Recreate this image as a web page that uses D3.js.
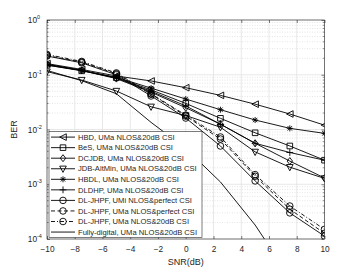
<!DOCTYPE html>
<meta charset="utf-8">
<script src="https://d3js.org/d3.v7.min.js"></script>
<style>
  body { margin: 0; background: #fff; }
  text { font-family: "Liberation Sans", Arial, sans-serif; fill: #262626; }
</style>
<div id="my_dataviz"></div>
<script>
    // data
    const snr = [-10, -7.5, -5, -2.5, 0, 2.5, 5, 7.5, 10];
    const hbd      = [0.16, 0.125, 0.095, 0.077, 0.058, 0.042, 0.029, 0.0192, 0.012];
    const bes      = [0.15, 0.118, 0.088, 0.053, 0.030, 0.016, 0.0087, 0.0050, 0.00275];
    const dcjdb    = [0.155, 0.12, 0.085, 0.048, 0.025, 0.0125, 0.0056, 0.00265, 0.0013];
    const jdb      = [0.114, 0.080, 0.0505, 0.026, 0.018, 0.011, 0.0039, 0.00205, 0.00128];
    const hbdl     = [0.155, 0.12, 0.09, 0.057, 0.036, 0.023, 0.0149, 0.0105, 0.0085];
    const dldhp    = [0.15, 0.12, 0.087, 0.05, 0.027, 0.0125, 0.0056, 0.0038, 0.00275];
    const jhpfUmiP = [0.22, 0.165, 0.10, 0.041, 0.0162, 0.0050, 0.00115, 0.00030, 0.000113];
    const jhpfUmaP = [0.225, 0.17, 0.104, 0.044, 0.0176, 0.0067, 0.0014, 0.00035, 0.000127];
    const jhpfUma20 = [0.235, 0.175, 0.108, 0.045, 0.0183, 0.0073, 0.0015, 0.00040, 0.00015];
    const fullyDigital = [0.12, 0.078, 0.045, 0.0135, 0.0045, 0.0011, 0.00018, 0.00002, 0.000002];

    const xTicks = [-10, -8, -6, -4, -2, 0, 2, 4, 6, 8, 10];
    const yTicks = [1e-4, 1e-3, 1e-2, 1e-1, 1];

    const series = [
        {name: "HBD, UMa NLOS&20dB CSI", values: hbd, marker: "tri-left", dash: null},
        {name: "BeS, UMa NLOS&20dB CSI", values: bes, marker: "square", dash: null},
        {name: "DCJDB, UMa NLOS&20dB CSI", values: dcjdb, marker: "diamond", dash: null},
        {name: "JDB-AltMin, UMa NLOS&20dB CSI", values: jdb, marker: "tri-down", dash: null},
        {name: "HBDL, UMa NLOS&20dB CSI", values: hbdl, marker: "star", dash: null},
        {name: "DLDHP, UMa NLOS&20dB CSI", values: dldhp, marker: "plus", dash: null},
        {name: "DL-JHPF, UMi NLOS&perfect CSI", values: jhpfUmiP, marker: "circle", dash: null},
        {name: "DL-JHPF, UMa NLOS&perfect CSI", values: jhpfUmaP, marker: "circle", dash: "4,2.5"},
        {name: "DL-JHPF, UMa NLOS&20dB CSI", values: jhpfUma20, marker: "circle", dash: "4,2,1,2"},
        {name: "Fully-digital, UMa NLOS&20dB CSI", values: fullyDigital, marker: null, dash: null}
    ];

    const width = 359, height = 269;
    const margin = {top: 20, bottom: 30, left: 47, right: 34.5};
    const ink = "#262626";

    const svg = d3.select("#my_dataviz")
        .append("svg")
            .attr("width", width)
            .attr("height", height);

    const x = d3.scaleLinear()
        .domain([-10, 10])
        .range([margin.left, width - margin.right]);
    const y = d3.scaleLog()
        .domain([1e-4, 1])
        .range([height - margin.bottom, margin.top]);

    const x0 = x.range()[0], x1 = x.range()[1];
    const y0 = y.range()[0], y1 = y.range()[1];

    // minor y values (2..9 per decade)
    const minorY = [];
    for (let e = -4; e < 0; e++) for (let m = 2; m <= 9; m++) minorY.push(m * Math.pow(10, e));

    // grid
    const grid = svg.append("g");
    grid.selectAll(".minor").data(minorY).enter().append("line")
        .attr("x1", x0).attr("x2", x1)
        .attr("y1", d => y(d)).attr("y2", d => y(d))
        .attr("stroke", "#d4d4d4").attr("stroke-width", 0.6)
        .attr("stroke-dasharray", "1,1.5");
    grid.selectAll(".vx").data(xTicks).enter().append("line")
        .attr("x1", d => x(d)).attr("x2", d => x(d))
        .attr("y1", y0).attr("y2", y1)
        .attr("stroke", "#e2e2e2").attr("stroke-width", 0.8);
    grid.selectAll(".hy").data(yTicks).enter().append("line")
        .attr("x1", x0).attr("x2", x1)
        .attr("y1", d => y(d)).attr("y2", d => y(d))
        .attr("stroke", "#e2e2e2").attr("stroke-width", 0.8);

    // axes (ticks inward, on all four sides)
    svg.append("g")
        .attr("transform", "translate(0," + y0 + ")")
        .call(d3.axisBottom(x).tickValues(xTicks).tickSize(-3).tickPadding(7).tickSizeOuter(0))
        .call(g => g.select(".domain").remove());
    svg.append("g")
        .attr("transform", "translate(0," + y1 + ")")
        .call(d3.axisTop(x).tickValues(xTicks).tickSize(-3).tickFormat("").tickSizeOuter(0))
        .call(g => g.select(".domain").remove());
    svg.append("g")
        .attr("transform", "translate(" + x0 + ",0)")
        .call(d3.axisLeft(y).tickValues(yTicks).tickSize(-3).tickFormat(""))
        .call(g => g.select(".domain").remove());
    svg.append("g")
        .attr("transform", "translate(" + x1 + ",0)")
        .call(d3.axisRight(y).tickValues(yTicks).tickSize(-3).tickFormat(""))
        .call(g => g.select(".domain").remove());
    // minor y ticks
    [[x0, 1.6], [x1, -1.6]].forEach(([px, len]) => {
        svg.append("g").selectAll("line").data(minorY).enter().append("line")
            .attr("x1", px).attr("x2", px + len)
            .attr("y1", d => y(d)).attr("y2", d => y(d))
            .attr("stroke", ink).attr("stroke-width", 0.5);
    });
    svg.selectAll(".tick line").attr("stroke", ink).attr("stroke-width", 0.6);
    svg.selectAll(".tick text").style("font-size", "8.3px").attr("fill", ink)
        .style("font-family", "'Liberation Sans', Arial, sans-serif");

    // y tick labels as 10^k
    const yl = svg.append("g");
    yTicks.forEach(v => {
        yl.append("text")
            .attr("x", x0 - 10).attr("y", y(v) + 3)
            .attr("text-anchor", "end")
            .style("font-size", "8.3px")
            .text("10");
        yl.append("text")
            .attr("x", x0 - 10).attr("y", y(v) - 1)
            .attr("text-anchor", "start")
            .style("font-size", "5.5px")
            .text(Math.round(Math.log10(v)));
    });

    // frame
    svg.append("rect")
        .attr("x", x0).attr("y", y1)
        .attr("width", x1 - x0).attr("height", y0 - y1)
        .attr("fill", "none").attr("stroke", ink).attr("stroke-width", 0.6);

    // axis labels
    svg.append("text")
        .attr("x", x(0)).attr("y", height - 4)
        .attr("text-anchor", "middle")
        .style("font-size", "9px")
        .text("SNR(dB)");
    svg.append("text")
        .attr("transform", "translate(17," + ((y0 + y1) / 2) + ") rotate(-90)")
        .attr("text-anchor", "middle")
        .style("font-size", "9px")
        .text("BER");

    // marker shapes
    function markerPath(type) {
        const r = 3.3;
        switch (type) {
            case "tri-left": return "M" + (-r) + ",0L" + r + "," + (-r) + "L" + r + "," + r + "Z";
            case "tri-down": return "M" + (-r) + "," + (-r * 0.8) + "L" + r + "," + (-r * 0.8) + "L0," + (r * 1.1) + "Z";
            case "square": return "M-2.8,-2.8H2.8V2.8H-2.8Z";
            case "diamond": return "M0,-3.5L2.7,0L0,3.5L-2.7,0Z";
            case "plus": return "M-3.4,0H3.4M0,-3.4V3.4";
            case "star": return "M-3,0H3M0,-3V3M-2.2,-2.2L2.2,2.2M-2.2,2.2L2.2,-2.2";
            case "circle": return "M3.3,0A3.3,3.3 0 1,1 -3.3,0A3.3,3.3 0 1,1 3.3,0Z";
        }
        return null;
    }

    svg.append("clipPath").attr("id", "plotclip")
        .append("rect").attr("x", x0).attr("y", y1).attr("width", x1 - x0).attr("height", y0 - y1);

    const line = d3.line()
        .x((d, i) => x(snr[i]))
        .y(d => y(d));

    const plot = svg.append("g").attr("clip-path", "url(#plotclip)");
    series.forEach(s => {
        plot.append("path")
            .datum(s.values)
            .attr("d", line)
            .attr("fill", "none")
            .attr("stroke", "#000")
            .attr("stroke-width", 0.9)
            .attr("stroke-dasharray", s.dash);
        if (s.marker) {
            plot.selectAll(null)
                .data(s.values.map((v, i) => [snr[i], v]))
                .enter().append("path")
                .attr("transform", d => "translate(" + x(d[0]) + "," + y(d[1]) + ")")
                .attr("d", markerPath(s.marker))
                .attr("fill", "none")
                .attr("stroke", "#000")
                .attr("stroke-width", 0.9);
        }
    });

    // legend
    const lg = svg.append("g").attr("transform", "translate(49,131.5)");
    const rowH = 10.55;
    lg.append("rect")
        .attr("width", 153).attr("height", rowH * series.length + 0.5)
        .attr("fill", "#fff").attr("stroke", ink).attr("stroke-width", 0.6);
    series.forEach((s, i) => {
        const cy = 5.6 + i * rowH;
        lg.append("line")
            .attr("x1", 2).attr("x2", 26)
            .attr("y1", cy).attr("y2", cy)
            .attr("stroke", "#000").attr("stroke-width", 0.9)
            .attr("stroke-dasharray", s.dash);
        if (s.marker) {
            lg.append("path")
                .attr("transform", "translate(14," + cy + ")")
                .attr("d", markerPath(s.marker))
                .attr("fill", "none").attr("stroke", "#000").attr("stroke-width", 0.9);
        }
        lg.append("text")
            .attr("x", 29).attr("y", cy + 2.7)
            .style("font-size", "7.6px")
            .text(s.name);
    });
</script>
